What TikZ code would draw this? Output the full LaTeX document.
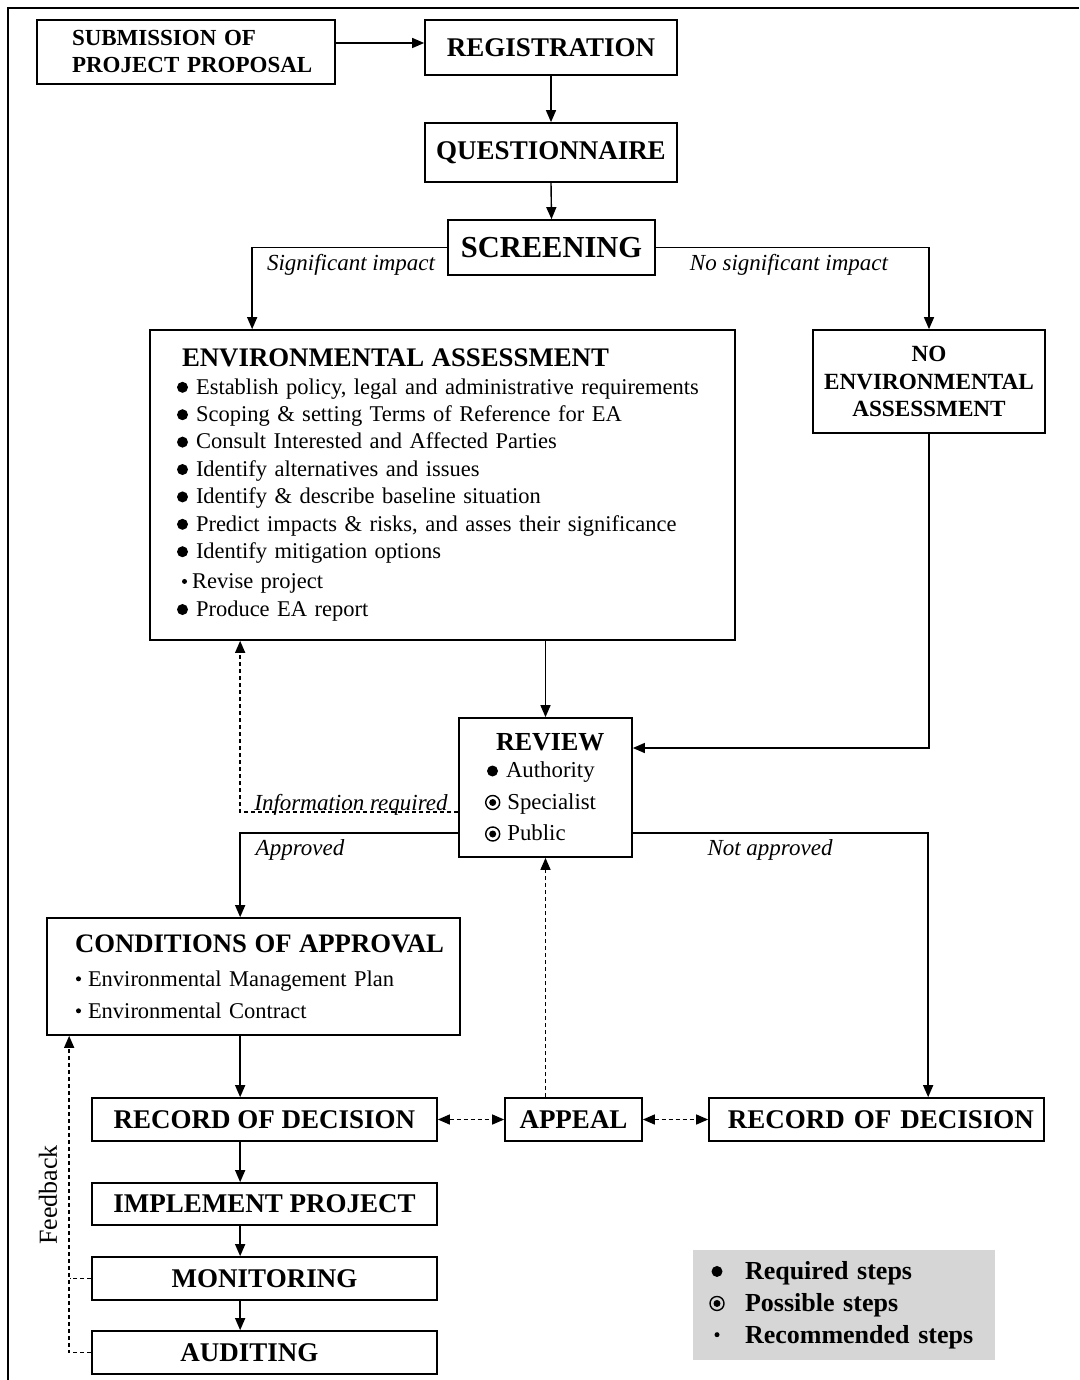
\documentclass[tikz,border=0pt]{standalone}
\usepackage{fontspec}
\setmainfont{Liberation Serif}
\usetikzlibrary{arrows.meta,calc}
\newcommand\bigbul{\tikz[baseline=-0.3em]\fill (0,0) circle (5.5pt);}
\newcommand\posbul{\tikz[baseline=-0.3em]{\draw[line width=1.4pt] (0,0) circle (7pt);\fill (0,0) circle (3.5pt);}}
\newcommand\smlbul{\tikz[baseline=-0.33em]\fill (0,0) circle (2.5pt);}
\begin{document}
\begin{tikzpicture}[x=1pt,y=-1pt,
  box/.style={draw, line width=1.7pt, inner sep=0pt, font=\bfseries\fontsize{27}{32}\selectfont},
  arr/.style={line width=1.4pt, -{Triangle[length=12pt,width=10pt]}},
  darr/.style={line width=1.4pt, dash pattern=on 4pt off 3pt, -{Triangle[length=12pt,width=10pt]}},
  dd/.style={line width=1.4pt, dash pattern=on 4pt off 3pt, {Triangle[length=12pt,width=10pt]}-{Triangle[length=12pt,width=10pt]}},
  lbl/.style={font=\itshape\fontsize{23}{26}\selectfont, inner sep=0pt}]
\useasboundingbox (0,0) rectangle (1079,1380);
\fill[white] (0,0) rectangle (1079,1380);
\draw[line width=2.5pt] (8,1380) -- (8,8) -- (1079,8);

% boxes
\node[box, minimum width=298pt, minimum height=64pt, inner xsep=35pt, text width=228pt, align=left, font=\bfseries\fontsize{23}{27}\selectfont] (sub) at (186,52) {SUBMISSION OF\\\mbox{PROJECT PROPOSAL}};
\node[box, minimum width=252pt, minimum height=55pt] (reg) at (551,47.5) {REGISTRATION};
\node[box, minimum width=252pt, minimum height=59pt] (que) at (551,152.5) {QUESTIONNAIRE};
\node[box, minimum width=207pt, minimum height=55pt, font=\bfseries\fontsize{30.5}{34}\selectfont] (scr) at (551.5,247.5) {SCREENING};
\node[box, minimum width=585pt, minimum height=310pt, inner xsep=27pt, text width=531pt, align=left, font=\fontsize{22.5}{27.4}\selectfont] (ea) at (442.5,485)
 {\mbox{\hspace*{5pt}\bfseries\fontsize{26.8}{28}\selectfont ENVIRONMENTAL ASSESSMENT}\\[0pt]
  \bigbul\hspace{8pt}Establish policy, legal and administrative requirements\\
  \bigbul\hspace{8pt}Scoping \& setting Terms of Reference for EA\\
  \bigbul\hspace{8pt}Consult Interested and Affected Parties\\
  \bigbul\hspace{8pt}Identify alternatives and issues\\
  \bigbul\hspace{8pt}Identify \& describe baseline situation\\
  \bigbul\hspace{8pt}Predict impacts \& risks, and asses their significance\\
  \bigbul\hspace{8pt}Identify mitigation options\\[3pt]
  \hspace*{5pt}\smlbul\hspace{5pt}Revise project\\
  \bigbul\hspace{8pt}Produce EA report};
\node[box, minimum width=232pt, minimum height=103pt, align=center, font=\bfseries\fontsize{23.2}{27.5}\selectfont] (nea) at (929,381.5) {NO\\ENVIRONMENTAL\\ASSESSMENT};
\node[box, minimum width=173pt, minimum height=139pt, inner xsep=26pt, text width=121pt, align=left, font=\fontsize{22.8}{31.5}\selectfont] (rev) at (545.5,787.5)
 {\mbox{\hspace*{11pt}\bfseries\fontsize{26}{29}\selectfont REVIEW}\\[-4pt]
  \hspace*{2pt}\bigbul\hspace{8pt}Authority\\
  \posbul\hspace{7pt}Specialist\\
  \posbul\hspace{7pt}Public};
\node[box, minimum width=413pt, minimum height=117pt, inner xsep=12pt, text width=389pt, align=left, font=\fontsize{22.5}{32}\selectfont] (coa) at (253.5,976.5)
 {\mbox{\hspace*{16pt}\bfseries\fontsize{26.7}{30}\selectfont CONDITIONS OF APPROVAL}\\[2pt]
  \hspace*{17pt}\smlbul\hspace{7pt}Environmental Management Plan\\
  \hspace*{17pt}\smlbul\hspace{7pt}Environmental Contract};
\node[box, minimum width=345pt, minimum height=43pt] (rodl) at (264.5,1119.5) {RECORD OF DECISION};
\node[box, minimum width=137pt, minimum height=43pt] (app) at (573.5,1119.5) {APPEAL};
\node[box, minimum width=335pt, minimum height=43pt, text width=315pt, align=right, inner xsep=10pt] (rodr) at (876.5,1119.5) {RECORD OF DECISION};
\node[box, minimum width=345pt, minimum height=42pt] (imp) at (264.5,1204) {IMPLEMENT PROJECT};
\node[box, minimum width=345pt, minimum height=43pt] (mon) at (264.5,1278.5) {MONITORING};
\node[box, minimum width=345pt, minimum height=43pt, text width=325pt, align=center, inner xsep=10pt] (aud) at (264.5,1352.5) {\hspace*{-30pt}AUDITING};

% legend
\node[fill=gray!32, minimum width=302pt, minimum height=110pt, inner xsep=15.5pt, text width=271pt, align=left, font=\bfseries\fontsize{26}{32}\selectfont] (leg) at (844,1305)
 {\makebox[17pt]{\bigbul}\hspace*{19.5pt}Required steps\\
  \makebox[17pt]{\posbul}\hspace*{19.5pt}Possible steps\\
  \makebox[17pt]{\smlbul}\hspace*{19.5pt}Recommended steps};

% connectors
\draw[arr] ($(sub.east)+(0,-9)$) -- ($(reg.west)+(0,-4.5)$);
\draw[arr] (reg.south) -- (que.north);
\draw[arr] (que.south) -- (scr.north);
\draw[arr] (scr.west) -| ([xshift=103pt]ea.north west);
\draw[arr] (scr.east) -| (nea.north);
\draw[arr] (nea.south) |- ([yshift=39.5pt]rev.east);
\draw[arr] (rev.north |- ea.south) -- (rev.north);
\draw[darr] ([yshift=-24.5pt]rev.west) -| ([xshift=91pt]ea.south west);
\draw[arr] ([yshift=-45.5pt]rev.west) -| ([xshift=194pt]coa.north west);
\draw[arr] ([yshift=-45.5pt]rev.east) -| ([xshift=220pt]rodr.north west);
\draw[arr] ([xshift=194pt]coa.south west) -- ([xshift=149pt]rodl.north west);
\draw[arr] ([xshift=149pt]rodl.south west) -- ([xshift=149pt]imp.north west);
\draw[arr] ([xshift=149pt]imp.south west) -- ([xshift=149pt]mon.north west);
\draw[arr] ([xshift=149pt]mon.south west) -- ([xshift=149pt]aud.north west);
\draw[dd] (rodl.east) -- (app.west);
\draw[dd] (app.east) -- (rodr.west);
\draw[darr] (app.north -| rev.south) -- (rev.south);
\draw[darr] (aud.west) -| ([xshift=23pt]coa.south west);
\draw[line width=1.4pt, dash pattern=on 4pt off 3pt] (mon.west) -- (mon.west -| {(70,0)});

% labels
\node[lbl] (l1) at (351,265) {Significant impact};
\node[lbl] (l2) at (789,265) {No significant impact};
\node[lbl, anchor=base] (l3) at (351,810) {Information required};
\node[lbl] (l4) at (300,850) {Approved};
\node[lbl] (l5) at (770,850) {Not approved};
\node[rotate=90, font=\fontsize{26}{28}\selectfont, inner sep=0pt] (fb) at (48,1195) {Feedback};
\end{tikzpicture}
\end{document}
